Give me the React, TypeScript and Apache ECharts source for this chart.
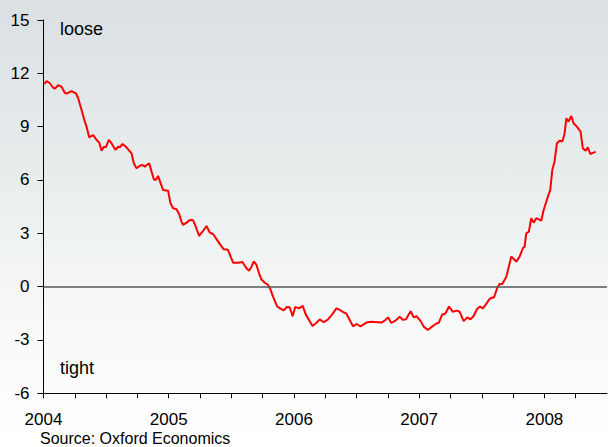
import React, { useEffect, useRef } from "react";
import * as echarts from "echarts";

const dates: number[] = [
  2004.006, 2004.025, 2004.051, 2004.077, 2004.091, 2004.117, 2004.144, 2004.171, 2004.189, 2004.224,
  2004.259, 2004.277, 2004.304, 2004.330, 2004.344, 2004.365, 2004.397, 2004.424, 2004.445, 2004.464,
  2004.482, 2004.498, 2004.522, 2004.543, 2004.575, 2004.596, 2004.610, 2004.631, 2004.663, 2004.703,
  2004.721, 2004.743, 2004.769, 2004.791, 2004.809, 2004.844, 2004.863, 2004.881, 2004.897, 2004.915,
  2004.935, 2004.955, 2004.995, 2005.014, 2005.035, 2005.062, 2005.083, 2005.102, 2005.115, 2005.142,
  2005.168, 2005.195, 2005.216, 2005.243, 2005.270, 2005.302, 2005.328, 2005.354, 2005.386, 2005.413,
  2005.440, 2005.472, 2005.482, 2005.514, 2005.554, 2005.589, 2005.621, 2005.642, 2005.661, 2005.679,
  2005.701, 2005.721, 2005.741, 2005.767, 2005.793, 2005.812, 2005.833, 2005.865, 2005.889, 2005.919,
  2005.943, 2005.966, 2005.990, 2006.010, 2006.041, 2006.070, 2006.094, 2006.148, 2006.176, 2006.206,
  2006.238, 2006.270, 2006.301, 2006.339, 2006.366, 2006.395, 2006.419, 2006.472, 2006.502, 2006.531,
  2006.579, 2006.614, 2006.698, 2006.725, 2006.751, 2006.778, 2006.808, 2006.844, 2006.871, 2006.895,
  2006.932, 2006.956, 2006.980, 2007.012, 2007.036, 2007.070, 2007.100, 2007.132, 2007.158, 2007.183,
  2007.211, 2007.238, 2007.268, 2007.303, 2007.323, 2007.355, 2007.385, 2007.409, 2007.435, 2007.461,
  2007.485, 2007.509, 2007.543, 2007.563, 2007.599, 2007.622, 2007.642, 2007.664, 2007.696, 2007.736,
  2007.776, 2007.802, 2007.828, 2007.842, 2007.855, 2007.876, 2007.895, 2007.914, 2007.935, 2007.975,
  2007.994, 2008.028, 2008.047, 2008.063, 2008.081, 2008.100, 2008.121, 2008.143, 2008.161, 2008.175,
  2008.193, 2008.215, 2008.233, 2008.259, 2008.289, 2008.307, 2008.329, 2008.347, 2008.366, 2008.393,
  2008.409,
];

const values: number[] = [
  11.39, 11.57, 11.44, 11.19, 11.14, 11.33, 11.25, 10.89, 10.87, 11.0,
  10.87, 10.6, 9.94, 9.28, 9.0, 8.4, 8.53, 8.25, 8.1, 7.65,
  7.87, 7.84, 8.25, 8.07, 7.69, 7.87, 7.84, 8.03, 7.84, 7.5,
  6.94, 6.66, 6.8, 6.84, 6.75, 6.94, 6.47, 6.04, 6.0, 6.23,
  5.82, 5.44, 5.4, 4.69, 4.41, 4.35, 4.09, 3.66, 3.47, 3.6,
  3.75, 3.73, 3.37, 2.85, 3.09, 3.41, 3.04, 2.96, 2.63, 2.35,
  2.1, 2.08, 1.91, 1.35, 1.35, 1.39, 1.03, 0.9, 1.12, 1.42,
  1.22, 0.75, 0.4, 0.22, 0.1, -0.15, -0.56, -1.1, -1.22, -1.33,
  -1.14, -1.16, -1.67, -1.14, -1.22, -1.08, -1.56, -2.21, -2.06, -1.84,
  -2.0, -1.86, -1.6, -1.22, -1.31, -1.44, -1.52, -2.23, -2.1, -2.24,
  -2.02, -1.97, -2.02, -1.91, -1.73, -2.04, -1.93, -1.7, -1.87, -1.84,
  -1.38, -1.72, -1.67, -1.94, -2.25, -2.44, -2.26, -2.1, -2.02, -1.58,
  -1.5, -1.12, -1.41, -1.35, -1.41, -1.94, -1.73, -1.84, -1.65, -1.27,
  -1.12, -1.22, -0.9, -0.68, -0.58, -0.09, 0.15, 0.15, 0.56, 1.69,
  1.41, 1.69, 2.16, 2.25, 3.0, 3.09, 3.85, 3.6, 3.85, 3.71,
  4.31, 5.06, 5.44, 6.56, 7.03, 8.07, 8.21, 8.16, 8.59, 9.47,
  9.28, 9.6, 9.19, 9.0, 8.72, 7.78, 7.65, 7.84, 7.46, 7.54,
  7.59,
];

const yearTicks: number[] = [2004, 2005, 2006, 2007, 2008];
const topLabel = "loose";
const bottomLabel = "tight";
const sourceText = "Source: Oxford Economics";

const FONT = "Liberation Sans, Arial, sans-serif";

export default function App() {
  const ref = useRef<HTMLDivElement>(null);
  useEffect(() => {
    if (!ref.current) return;
    const chart = echarts.init(ref.current, null, { renderer: "svg" });
    const data = dates.map((d, i) => [d, values[i]]);
    chart.setOption({
      animation: false,
      backgroundColor: "transparent",
      grid: { left: 43.5, top: 20, right: 1, bottom: 53.7, containLabel: false },
      xAxis: {
        type: "value",
        min: 2004,
        max: 2008.5,
        interval: 0.25,
        splitLine: { show: false },
        axisLine: { show: true, onZero: false, lineStyle: { color: "#000", width: 1 } },
        axisTick: { show: true, length: 5, lineStyle: { color: "#000" } },
        axisLabel: {
          color: "#000",
          fontFamily: FONT,
          fontSize: 17,
          margin: 18,
          lineHeight: 17,
          showMaxLabel: false,
          formatter: (v: number) => (yearTicks.indexOf(v) >= 0 ? String(v) : ""),
        },
      },
      yAxis: {
        type: "value",
        min: -6,
        max: 15,
        interval: 3,
        splitLine: { show: false },
        axisLine: { show: true, lineStyle: { color: "#000", width: 1 } },
        axisTick: { show: true, length: 6, lineStyle: { color: "#000" } },
        axisLabel: { color: "#000", fontFamily: FONT, fontSize: 17, margin: 14 },
      },
      graphic: [
        { type: "text", x: 60, y: 29, style: { text: topLabel, font: `18px ${FONT}`, fill: "#000", verticalAlign: "middle" } },
        { type: "text", x: 60, y: 368, style: { text: bottomLabel, font: `18px ${FONT}`, fill: "#000", verticalAlign: "middle" } },
        { type: "text", x: 40, y: 438.5, style: { text: sourceText, font: `16px ${FONT}`, fill: "#000", verticalAlign: "middle" } },
      ],
      series: [
        {
          type: "line",
          data,
          showSymbol: false,
          symbol: "none",
          lineStyle: { color: "#ff0000", width: 2 },
          z: 3,
          markLine: {
            silent: true,
            symbol: "none",
            label: { show: false },
            lineStyle: { color: "#555", width: 1.5, type: "solid" },
            data: [{ yAxis: 0 }],
          },
        },
      ],
    });
    return () => chart.dispose();
  }, []);
  return (
    <div
      ref={ref}
      style={{
        position: "fixed",
        left: 0,
        top: 0,
        width: 608,
        height: 447,
        background: "linear-gradient(180deg, #d9e0e3 0%, #e9edee 40%, #f7f8f8 70%, #ffffff 100%)",
      }}
    />
  );
}
